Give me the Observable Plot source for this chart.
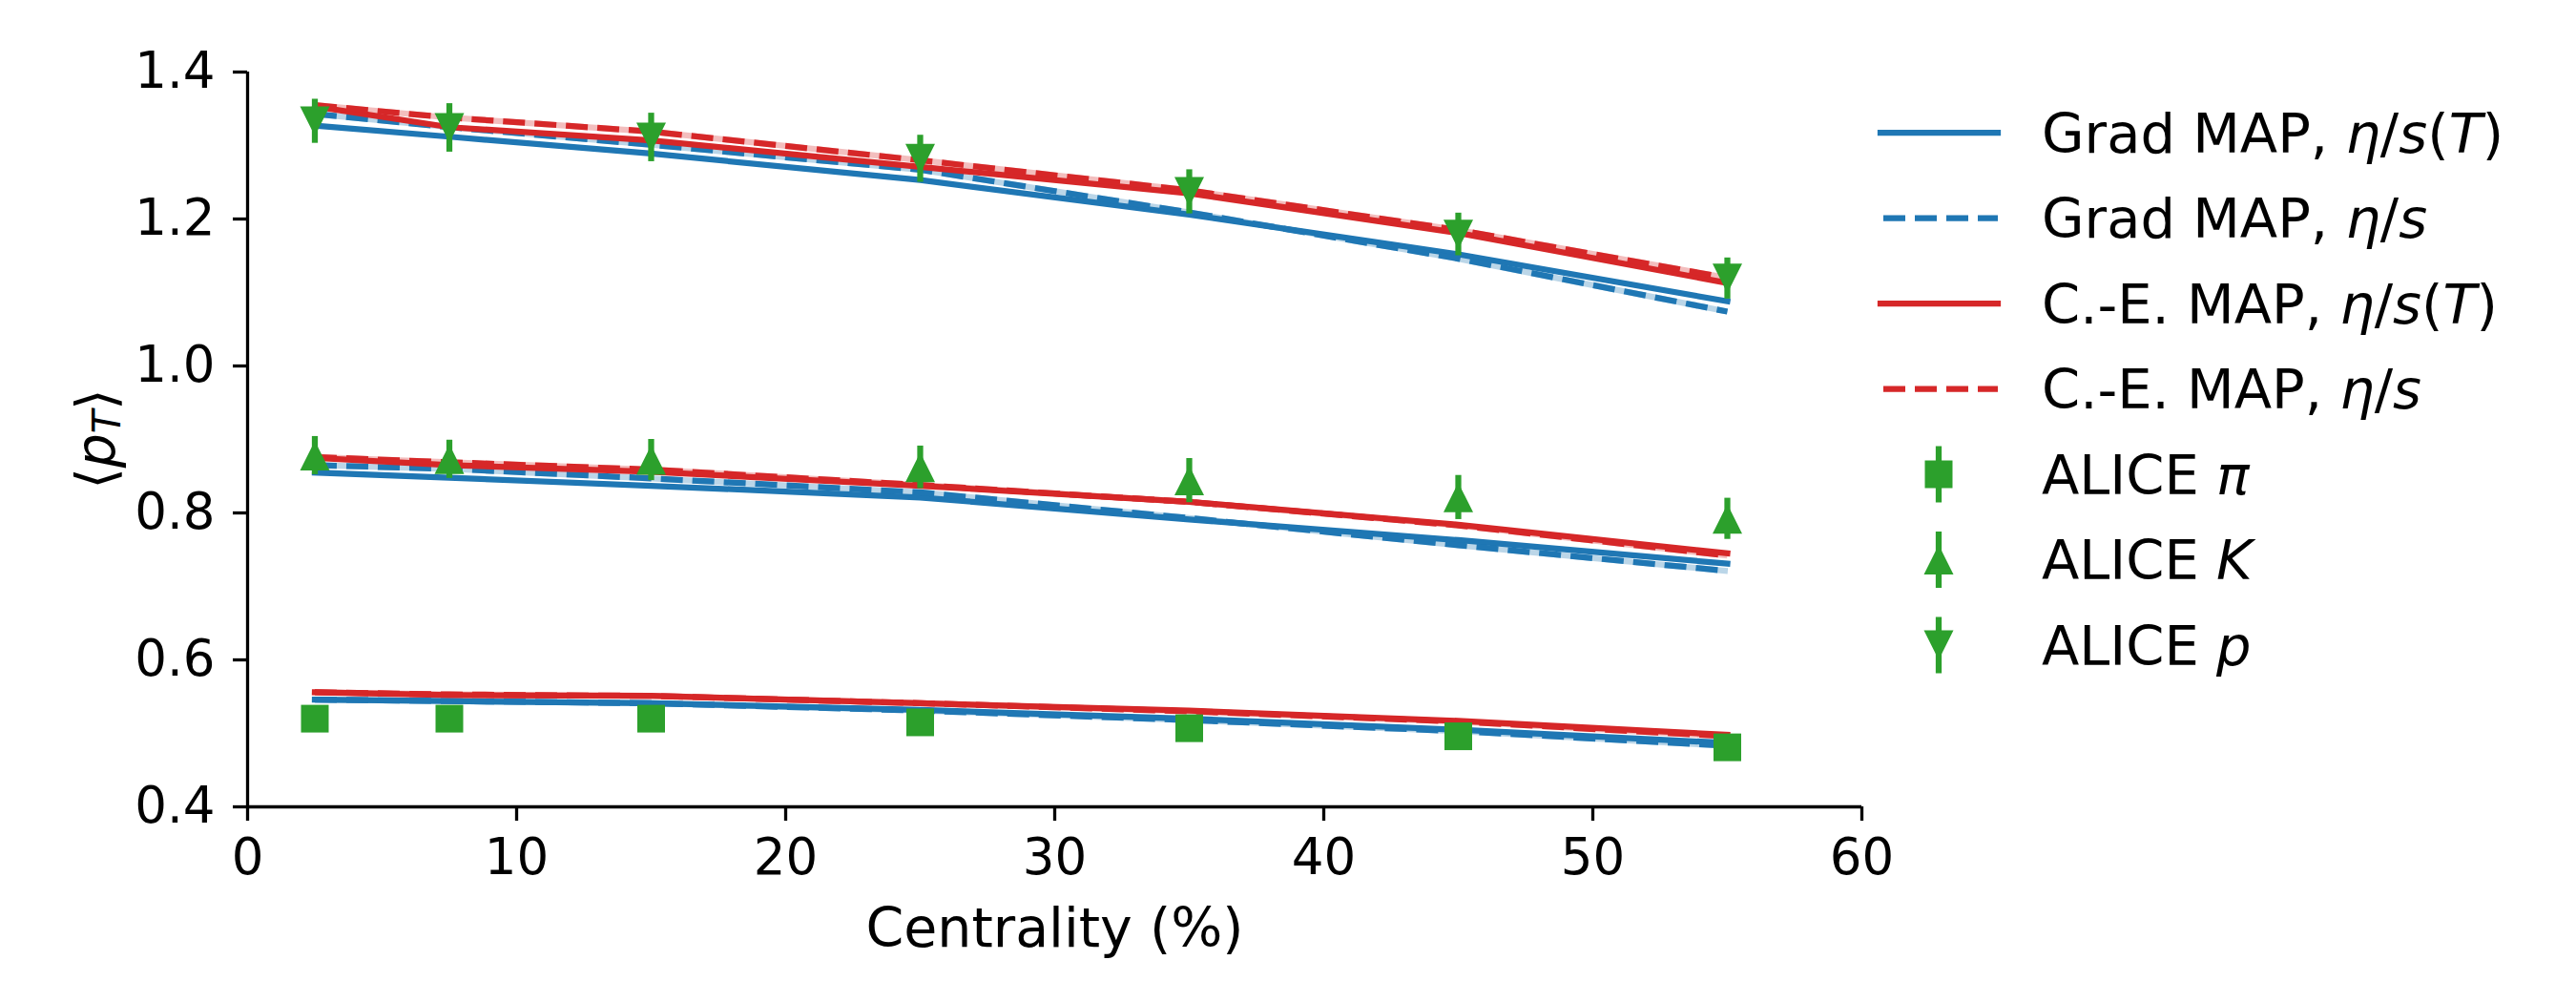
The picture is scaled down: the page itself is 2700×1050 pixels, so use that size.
<!DOCTYPE html>
<html>
<head>
<meta charset="utf-8">
<script src="https://cdn.jsdelivr.net/npm/d3@7"></script>
<script src="https://cdn.jsdelivr.net/npm/@observablehq/plot@0.6"></script>
<style>
  html, body { margin: 0; padding: 0; background: #fff; }
  #wrap { position: relative; width: 2700px; height: 1050px; font-family: "DejaVu Sans", sans-serif; }
  #wrap > svg { position: absolute; left: 0; top: 0; }
</style>
</head>
<body>
<div id="wrap"></div>
<script>
// ---------- data ----------
const xTicks = [0, 10, 20, 30, 40, 50, 60];
const yTicks = [0.4, 0.6, 0.8, 1.0, 1.2, 1.4];
const xLabel = "Centrality (%)";
const centrality = [2.5, 7.5, 15, 25, 35, 45, 55];

// ALICE measurements
const alicePi = [0.520, 0.520, 0.520, 0.515, 0.507, 0.496, 0.481];
const alicePiErr = [0.015, 0.015, 0.015, 0.015, 0.015, 0.015, 0.015];
const aliceK = [0.878, 0.873, 0.872, 0.862, 0.844, 0.821, 0.792];
const aliceKErr = [0.026, 0.026, 0.028, 0.029, 0.030, 0.030, 0.028];
const aliceP = [1.333, 1.324, 1.311, 1.282, 1.237, 1.179, 1.119];
const alicePErr = [0.030, 0.033, 0.033, 0.032, 0.030, 0.029, 0.028];

// Grad MAP, eta/s(T)
const gradT_pi = [0.546, 0.544, 0.541, 0.532, 0.520, 0.505, 0.487];
const gradT_K  = [0.855, 0.848, 0.837, 0.821, 0.791, 0.763, 0.731];
const gradT_p  = [1.327, 1.312, 1.289, 1.253, 1.206, 1.152, 1.088];
// Grad MAP, eta/s
const gradC_pi = [0.546, 0.544, 0.541, 0.531, 0.518, 0.503, 0.483];
const gradC_K  = [0.865, 0.860, 0.847, 0.828, 0.793, 0.756, 0.721];
const gradC_p  = [1.343, 1.325, 1.301, 1.267, 1.209, 1.146, 1.074];
// C.-E. MAP, eta/s(T)
const ceT_pi = [0.556, 0.552, 0.551, 0.541, 0.531, 0.517, 0.498];
const ceT_K  = [0.875, 0.865, 0.856, 0.837, 0.815, 0.784, 0.745];
const ceT_p  = [1.353, 1.325, 1.307, 1.271, 1.235, 1.181, 1.113];
// C.-E. MAP, eta/s
const ceC_pi = [0.556, 0.553, 0.551, 0.541, 0.530, 0.516, 0.496];
const ceC_K  = [0.876, 0.869, 0.859, 0.838, 0.815, 0.783, 0.742];
const ceC_p  = [1.355, 1.338, 1.319, 1.280, 1.239, 1.185, 1.120];

const blue = "#1f77b4", red = "#d62728", green = "#2ca02c";

// ---------- tables ----------
const rows = (vals, sp, errs) => centrality.map((c, i) => ({c, v: vals[i], e: errs ? errs[i] : 0, sp}));
const model = (a, b, c) => [...rows(a, "pi"), ...rows(b, "K"), ...rows(c, "p")];
const gradT = model(gradT_pi, gradT_K, gradT_p);
const gradC = model(gradC_pi, gradC_K, gradC_p);
const ceT = model(ceT_pi, ceT_K, ceT_p);
const ceC = model(ceC_pi, ceC_K, ceC_p);
const dPi = rows(alicePi, "pi", alicePiErr);
const dK = rows(aliceK, "K", aliceKErr);
const dP = rows(aliceP, "p", alicePErr);

// custom matplotlib-like markers
const rad = s => Math.sqrt(s / Math.PI);
const squareSym = {draw(ctx, s) { const r = rad(s); ctx.moveTo(-r, -r); ctx.lineTo(r, -r); ctx.lineTo(r, r); ctx.lineTo(-r, r); ctx.closePath(); }};
const triUp = {draw(ctx, s) { const r = rad(s); ctx.moveTo(0, -r); ctx.lineTo(r, r); ctx.lineTo(-r, r); ctx.closePath(); }};
const triDown = {draw(ctx, s) { const r = rad(s); ctx.moveTo(0, r); ctx.lineTo(r, -r); ctx.lineTo(-r, -r); ctx.closePath(); }};

const LW = 6.25, DASH = "23,10";
const solid = (data, color) => Plot.line(data, {x: "c", y: "v", z: "sp", stroke: color, strokeWidth: LW, strokeLinecap: "square", strokeLinejoin: "round"});
const dashed = (data, color) => [
  Plot.line(data, {x: "c", y: "v", z: "sp", stroke: color, strokeOpacity: 0.3, strokeWidth: LW, strokeLinecap: "butt"}),
  Plot.line(data, {x: "c", y: "v", z: "sp", stroke: color, strokeWidth: LW, strokeDasharray: DASH, strokeLinecap: "butt", strokeLinejoin: "round"})
];
const errs = data => Plot.ruleX(data, {x: "c", y1: d => d.v - d.e, y2: d => d.v + d.e, stroke: green, strokeWidth: LW});

const plot = Plot.plot({
  width: 2700, height: 1050,
  marginLeft: 259, marginRight: 749, marginTop: 75, marginBottom: 205,
  x: {domain: [0, 60]},
  y: {domain: [0.4, 1.4]},
  style: {fontFamily: "'DejaVu Sans', sans-serif", background: "#fff", color: "#000"},
  marks: [
    solid(gradT, blue),
    dashed(gradC, blue),
    solid(ceT, red),
    dashed(ceC, red),
    errs(dPi), errs(dK), errs(dP),
    Plot.dot(dPi, {x: "c", y: "v", symbol: squareSym, r: 14.5, fill: green, stroke: "none"}),
    Plot.dot(dK, {x: "c", y: "v", symbol: triUp, r: 15.5, fill: green, stroke: "none"}),
    Plot.dot(dP, {x: "c", y: "v", symbol: triDown, r: 15.5, fill: green, stroke: "none"}),
    Plot.ruleX([0], {stroke: "#000", strokeWidth: 3.3}),
    Plot.ruleY([0.4], {stroke: "#000", strokeWidth: 3.3}),
    Plot.axisX({ticks: xTicks, tickSize: 15, tickPadding: 18, fontSize: 53, strokeWidth: 3.3, label: null, tickFormat: d => String(d)}),
    Plot.axisY({ticks: yTicks, tickSize: 15, tickPadding: 19, fontSize: 53, strokeWidth: 3.3, label: null, tickFormat: d3.format(".1f")}),
    Plot.text([xLabel], {frameAnchor: "bottom", lineAnchor: "middle", dy: 128, text: d => d, fontSize: 57, fill: "#000"})
  ]
});
document.getElementById("wrap").appendChild(plot);

// y label: <p_T>
const svg = d3.select(plot);
const yl = svg.append("text")
  .attr("transform", "translate(100,460) rotate(-90)")
  .attr("text-anchor", "middle")
  .attr("dominant-baseline", "central")
  .attr("font-family", "'DejaVu Sans', sans-serif")
  .attr("font-size", 57)
  .attr("fill", "#000");
yl.append("tspan").text("\u27E8");
yl.append("tspan").attr("font-style", "italic").text("p");
yl.append("tspan").attr("font-style", "italic").attr("font-size", 40).attr("dy", 12).text("T");
yl.append("tspan").attr("dy", -12).text("\u27E9");

// ---------- legend ----------
const legendEntries = [
  {kind: "line", color: blue, dash: null, parts: [["Grad MAP, ", 0], ["\u03B7", 1], ["/", 0], ["s", 1], ["(", 0], ["T", 1], [")", 0]]},
  {kind: "line", color: blue, dash: DASH, parts: [["Grad MAP, ", 0], ["\u03B7", 1], ["/", 0], ["s", 1]]},
  {kind: "line", color: red, dash: null, parts: [["C.-E. MAP, ", 0], ["\u03B7", 1], ["/", 0], ["s", 1], ["(", 0], ["T", 1], [")", 0]]},
  {kind: "line", color: red, dash: DASH, parts: [["C.-E. MAP, ", 0], ["\u03B7", 1], ["/", 0], ["s", 1]]},
  {kind: "marker", sym: squareSym, r: 14.5, parts: [["ALICE ", 0], ["\u03C0", 1]]},
  {kind: "marker", sym: triUp, r: 15.5, parts: [["ALICE ", 0], ["K", 1]]},
  {kind: "marker", sym: triDown, r: 15.5, parts: [["ALICE ", 0], ["p", 1]]}
];
const lsvg = d3.select("#wrap").append("svg")
  .attr("width", 2700).attr("height", 1050)
  .style("pointer-events", "none");
const L0 = 1971, L1 = 2094, LT = 2140, MX = 2032, FS = 57.5;
legendEntries.forEach((en, i) => {
  const y = 139 + i * 89.5;
  if (en.kind === "line") {
    lsvg.append("line").attr("x1", L0).attr("x2", L1).attr("y1", y).attr("y2", y)
      .attr("stroke", en.color).attr("stroke-width", LW)
      .attr("stroke-dasharray", en.dash ? en.dash : null)
      .attr("stroke-dashoffset", en.dash ? -3 : null)
      .attr("stroke-linecap", en.dash ? "butt" : "square");
  } else {
    lsvg.append("line").attr("x1", MX).attr("x2", MX).attr("y1", y - 29.5).attr("y2", y + 29.5)
      .attr("stroke", green).attr("stroke-width", LW);
    lsvg.append("path").attr("transform", `translate(${MX},${y})`)
      .attr("d", d3.symbol(en.sym, en.r * en.r * Math.PI)()).attr("fill", green);
  }
  const t = lsvg.append("text").attr("x", LT).attr("y", y + 0.365 * FS)
    .attr("font-family", "'DejaVu Sans', sans-serif").attr("font-size", FS).attr("fill", "#000")
    .style("white-space", "pre");
  en.parts.forEach(([s, it]) => t.append("tspan").attr("font-style", it ? "italic" : "normal").text(s));
});
</script>
</body>
</html>
